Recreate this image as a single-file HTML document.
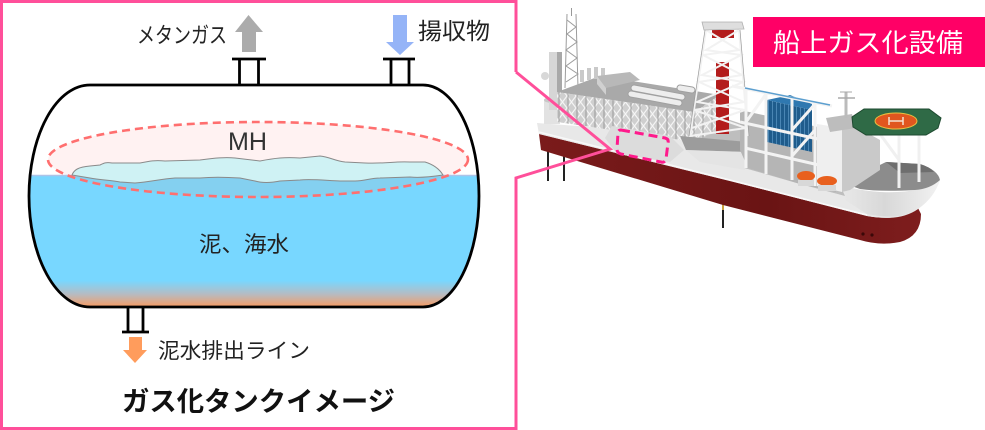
<!DOCTYPE html>
<html><head><meta charset="utf-8">
<style>
html,body{margin:0;padding:0;background:#fff;}
body{width:985px;height:430px;overflow:hidden;}
svg{display:block;}
text{font-family:"Liberation Sans","Noto Sans CJK JP",sans-serif;}
</style></head><body>
<svg width="985" height="430" viewBox="0 0 985 430" xmlns="http://www.w3.org/2000/svg">
<defs>
<clipPath id="tank"><path d="M90,85 L423,85 A56,111 0 0 1 423,307 L90,307 A61,111 0 0 1 90,85 Z"/></clipPath>
<clipPath id="below"><rect x="0" y="176" width="520" height="200"/></clipPath>
<linearGradient id="water" x1="0" y1="175" x2="0" y2="307" gradientUnits="userSpaceOnUse">
<stop offset="0" stop-color="#78D7FF"/>
<stop offset="0.8" stop-color="#78D7FF"/>
<stop offset="0.9" stop-color="#B4BCC4"/>
<stop offset="1" stop-color="#F89B62"/>
</linearGradient>
<linearGradient id="hull" x1="0" y1="0" x2="1" y2="0">
<stop offset="0" stop-color="#7A1B1B"/>
<stop offset="0.6" stop-color="#6A1414"/>
<stop offset="1" stop-color="#7E1D1D"/>
</linearGradient>
<linearGradient id="bowside" x1="0" y1="0" x2="1" y2="0">
<stop offset="0" stop-color="#EDEDED"/>
<stop offset="0.5" stop-color="#D8D8D8"/>
<stop offset="1" stop-color="#F2F2F2"/>
</linearGradient>
<pattern id="lat" width="9" height="12" patternUnits="userSpaceOnUse">
<rect width="9" height="12" fill="#CFCFCF"/>
<path d="M0,0 L9,12 M9,0 L0,12" stroke="#F5F5F5" stroke-width="1.2"/>
<path d="M1,0 V12" stroke="#8A8A8A" stroke-width="0.8"/>
</pattern>
<pattern id="blue" width="4" height="10" patternUnits="userSpaceOnUse">
<rect width="4" height="10" fill="#1F5C8C"/>
<path d="M0.5,0 V10" stroke="#4A86B4" stroke-width="1"/>
</pattern>
</defs>

<ellipse cx="258" cy="159.5" rx="210" ry="37.5" fill="#FFF2F2"/>
<g clip-path="url(#tank)">
<rect x="20" y="175" width="470" height="140" fill="url(#water)"/>
</g>
<ellipse cx="258" cy="159.5" rx="210" ry="37.5" fill="#84D0F0" clip-path="url(#below)"/>
<g clip-path="url(#tank)">
<line x1="20" y1="175.5" x2="490" y2="175.5" stroke="#ADC3E8" stroke-width="1.5"/>
</g>
<path d="M72,175 C74,170 78,167 90,166 L100,165 C104,163 106,162 112,163 L140,163 C150,161 155,160 165,161 L200,160 C215,158 225,157 235,158 L260,161 C275,158 285,157 300,158 L320,156 C330,157 335,161 345,162 L365,163 C385,164 395,161 410,162 L425,162 C435,165 440,170 443,175 C430,177 420,178 410,177 L380,178 C370,178 365,181 355,181 L340,181 C320,180 310,179 300,180 L280,181 C270,183 262,183 255,181 L240,178 C225,177 210,177 200,178 L175,178 C160,179 150,182 135,183 L120,182 C110,180 100,180 90,178 Z" fill="#CFF2F4" stroke="#8A8A8A" stroke-width="1"/>
<ellipse cx="258" cy="159.5" rx="210" ry="37.5" fill="none" stroke="#FF6F6F" stroke-width="2.6" stroke-dasharray="8 5"/>
<path d="M90,85 L423,85 A56,111 0 0 1 423,307 L90,307 A61,111 0 0 1 90,85 Z" fill="none" stroke="#000" stroke-width="2.8"/>

<g stroke="#000" stroke-width="2.8" fill="none">
<line x1="232" y1="59" x2="266" y2="59"/>
<line x1="239.5" y1="59" x2="239.5" y2="85"/>
<line x1="258.5" y1="59" x2="258.5" y2="85"/>
<line x1="383" y1="59" x2="415" y2="59"/>
<line x1="391" y1="59" x2="391" y2="85"/>
<line x1="409" y1="59" x2="409" y2="85"/>
<line x1="128" y1="307" x2="128" y2="332"/>
<line x1="143" y1="307" x2="143" y2="332"/>
<line x1="122" y1="332" x2="149" y2="332"/>
</g>

<polygon points="248.5,15 263,32 256,32 256,52 242,52 242,32 235,32" fill="#ABABAB"/>
<polygon points="393,15 407,15 407,42 414,42 400,55 386,42 393,42" fill="#95B4F7"/>
<polygon points="129,337 142,337 142,350 147,350 135,363 123,350 129,350" fill="#FF9C5C"/>

<text x="137" y="43" font-size="22" fill="#222" textLength="90" lengthAdjust="spacingAndGlyphs">メタンガス</text>
<text x="418" y="39" font-size="23" fill="#222" textLength="72" lengthAdjust="spacingAndGlyphs">揚収物</text>
<text x="228" y="150" font-size="25" fill="#333" textLength="39" lengthAdjust="spacingAndGlyphs">MH</text>
<text x="199" y="252" font-size="22" fill="#222" textLength="90" lengthAdjust="spacingAndGlyphs">泥、海水</text>
<text x="158" y="358" font-size="21" fill="#222" textLength="152" lengthAdjust="spacingAndGlyphs">泥水排出ライン</text>
<text x="122" y="411" font-size="27" font-weight="bold" fill="#111" textLength="273" lengthAdjust="spacingAndGlyphs">ガス化タンクイメージ</text>

<g stroke="#222" stroke-width="2">
<line x1="548" y1="150" x2="548" y2="181"/>
<line x1="564" y1="155" x2="564" y2="181"/>
<line x1="723" y1="204" x2="723" y2="228"/>
</g>
<line x1="723" y1="204" x2="723" y2="210" stroke="#C8A040" stroke-width="2"/>

<path d="M539,134 L730,181 L867,216 Q900,222 918,208 L921,214 Q921,236 900,242 Q880,246 860,240 L723,205 L541,150 Z" fill="url(#hull)"/>
<circle cx="863" cy="234" r="1.6" fill="#3A0808"/>
<circle cx="872" cy="235" r="1.6" fill="#3A0808"/>

<path d="M537,123 L605,128 L615,123 L680,133 L686,150 L730,164 L800,184 L845,196 L867,200 L918,207 L918,209 Q900,222 867,216 L730,181 L539,134 Z" fill="#E8E8E8"/>
<path d="M539,132 L730,180 L867,215" fill="none" stroke="#F8F8F8" stroke-width="1.5"/>

<path d="M838,186 Q860,200 918,200 Q935,195 940,180 L930,188 Q900,196 860,190 Z" fill="#E0E0E0"/>
<path d="M830,184 L845,200 L867,214 Q900,221 918,209 Q934,198 940,180 Q920,194 880,192 Q850,190 838,182 Z" fill="url(#bowside)"/>
<path d="M843,183 L886,162 L920,164 Q938,170 940,180 Q930,189 915,190 Q880,192 860,189 Z" fill="#8C8C8C"/>
<path d="M886,162 L920,164 Q930,167 934,172 L900,173 Z" fill="#6E6E6E"/>

<path d="M557,118 L615,123 L680,133 L686,150 L730,164 L800,184 L845,196 L840,185 L830,160 L760,130 L700,110 L600,100 Z" fill="#BEBEBE"/>

<rect x="544" y="100" width="16" height="24" fill="#E2E2E2"/>
<ellipse cx="552" cy="100" rx="8" ry="3" fill="#C8C8C8"/>
<rect x="549" y="52" width="8" height="58" fill="#D6D6D6"/>
<rect x="557" y="52" width="5" height="58" fill="#A8A8A8"/>
<circle cx="545" cy="76" r="4" fill="#D8D8D8"/>
<g stroke="#9C9C9C" stroke-width="1" fill="none">
<line x1="567" y1="14" x2="565" y2="88"/>
<line x1="576" y1="14" x2="578" y2="88"/>
<path d="M567,20 L576,27 L567,34 L577,42 L566,50 L577,58 L566,66 L578,74 L566,82"/>
</g>
<line x1="571.5" y1="8" x2="571.5" y2="16" stroke="#999" stroke-width="1"/>

<polygon points="557,92 695,112 695,142 557,122" fill="url(#lat)"/>
<polygon points="557,92 600,76 720,95 695,112" fill="#A9A9A9"/>
<polygon points="695,112 720,95 720,128 695,142" fill="url(#lat)"/>
<g fill="#C9C9C9">
<rect x="580" y="70" width="4" height="12"/>
<rect x="587" y="68" width="4" height="12"/>
<rect x="594" y="67" width="4" height="12"/>
<rect x="601" y="68" width="4" height="12"/>
</g>
<polygon points="597,76 630,72 640,80 606,88" fill="#B8B8B8"/>
<polygon points="597,76 606,88 606,95 597,84" fill="#D0D0D0"/>
<g stroke-linecap="round">
<line x1="634" y1="88" x2="682" y2="97" stroke="#A0A0A0" stroke-width="7"/>
<line x1="634" y1="88" x2="682" y2="97" stroke="#EDEDED" stroke-width="5"/>
<line x1="631" y1="94" x2="679" y2="103" stroke="#A0A0A0" stroke-width="7"/>
<line x1="631" y1="94" x2="679" y2="103" stroke="#EDEDED" stroke-width="5"/>
<line x1="680" y1="88" x2="692" y2="90" stroke="#A0A0A0" stroke-width="7"/>
<line x1="680" y1="88" x2="692" y2="90" stroke="#EDEDED" stroke-width="5"/>
</g>
<polygon points="612,126 670,136 684,150 670,162 617,154 605,138" fill="#DCDCDC"/>

<polygon points="680,136 748,142 748,152 686,150" fill="#9C9C9C"/>
<polygon points="686,150 748,152 745,170 700,162" fill="#E4E4E4"/>

<polygon points="740,110 832,130 836,192 800,184 748,168 740,150" fill="#B5B5B5"/>

<rect x="716" y="62" width="13" height="72" fill="#B31C1C"/>
<rect x="712" y="30" width="22" height="8" fill="#B31C1C"/>
<g stroke="#F2F2F2" stroke-width="2" fill="none">
<line x1="690" y1="136" x2="706" y2="30"/>
<line x1="748" y1="136" x2="739" y2="30"/>
<path d="M706,30 L739,50 L703,55 L742,75 L699,82 L744,102 L694,110 L746,128 L690,136"/>
<path d="M739,30 L706,50 L741,55 L702,75 L743,82 L697,102 L745,110 L692,128"/>
</g>
<g stroke="#999" stroke-width="0.7" fill="none">
<line x1="689" y1="136" x2="705" y2="30"/>
<line x1="749" y1="136" x2="740" y2="30"/>
</g>
<polygon points="702,22 742,22 744,29 704,30" fill="#DEDEDE" stroke="#B0B0B0" stroke-width="0.8"/>

<polygon points="767,100 812,110 812,152 767,142" fill="url(#blue)"/>
<polygon points="767,100 790,95 812,104 812,110" fill="#2F78B0"/>
<g stroke="#F3F3F3" stroke-width="3" fill="none">
<line x1="732" y1="86" x2="832" y2="106"/>
<line x1="740" y1="122" x2="832" y2="142"/>
<line x1="745" y1="148" x2="832" y2="168"/>
<line x1="746" y1="90" x2="746" y2="168"/>
<line x1="766" y1="94" x2="766" y2="174"/>
<line x1="792" y1="99" x2="792" y2="180"/>
<line x1="815" y1="104" x2="815" y2="186"/>
<line x1="746" y1="122" x2="766" y2="94"/>
<line x1="792" y1="130" x2="815" y2="104"/>
<line x1="792" y1="156" x2="815" y2="130"/>
</g>
<line x1="745" y1="88" x2="830" y2="105" stroke="#5C9FD0" stroke-width="1.5"/>

<polygon points="817,124 842,128 842,192 817,186" fill="#EFEFEF"/>
<polygon points="842,128 855,126 880,140 880,170 850,190 842,192" fill="#C9C9C9"/>
<polygon points="826,118 852,114 856,128 830,132" fill="#BDBDBD"/>
<line x1="846" y1="92" x2="846" y2="118" stroke="#BBBBBB" stroke-width="3"/>
<line x1="838" y1="98" x2="855" y2="98" stroke="#AAAAAA" stroke-width="1.5"/>
<line x1="840" y1="92" x2="852" y2="92" stroke="#AAAAAA" stroke-width="1"/>

<g stroke="#F0F0F0" stroke-width="3">
<line x1="899" y1="134" x2="899" y2="188"/>
<line x1="919" y1="134" x2="919" y2="182"/>
<line x1="880" y1="134" x2="899" y2="160"/>
</g>
<polygon points="864,109 929,109 941,118 938,128 926,135 866,135 853,127 852,117" fill="#2F6A46" stroke="#1E4A30" stroke-width="1"/>
<ellipse cx="896" cy="121" rx="21" ry="8" fill="#E0561F" stroke="#E8C040" stroke-width="1"/>
<path d="M889,117 L889,125 M903,117 L903,125 M889,121 L903,121" stroke="#F4E0D0" stroke-width="1.5"/>

<ellipse cx="806" cy="176" rx="9" ry="5" fill="#E8601E"/>
<ellipse cx="827" cy="181" rx="10" ry="5" fill="#E8601E"/>
<rect x="798" y="180" width="16" height="6" fill="#D8D8D8"/>
<rect x="818" y="185" width="18" height="6" fill="#D8D8D8"/>

<path d="M621,130 L665,138 Q669,139 668,143 L666,159 Q665,163 661,162 L621,154 Q617,153 617,149 L618,133 Q618,130 621,130 Z" fill="none" stroke="#FF1A8C" stroke-width="3" stroke-dasharray="9 5"/>

<path d="M516,72 L516,1.5 L1.5,1.5 L1.5,428.5 L516,428.5 L516,178 L610,149 L516,72" fill="none" stroke="#FF4F9A" stroke-width="3" stroke-linejoin="miter"/>

<rect x="753" y="17" width="232" height="50" fill="#FF0066"/>
<text x="773" y="52" font-size="26" fill="#FFFFFF" textLength="190" lengthAdjust="spacingAndGlyphs">船上ガス化設備</text>
</svg>
</body></html>
